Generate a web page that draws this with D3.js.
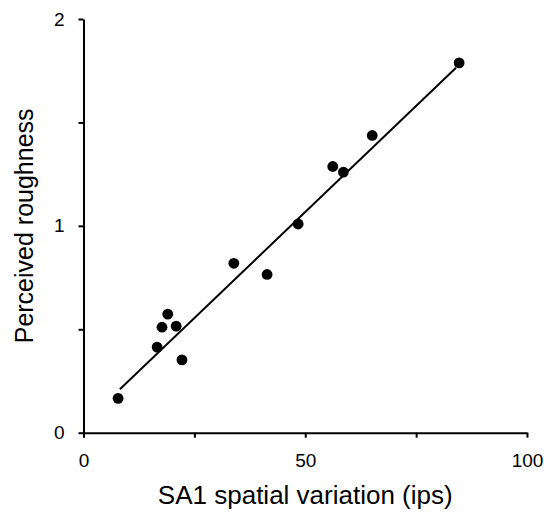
<!DOCTYPE html>
<html>
<head>
<meta charset="utf-8">
<script src="https://cdn.jsdelivr.net/npm/d3@7"></script>
<style>
  body { margin: 0; background: #fff; }
  svg { font-family: "Liberation Sans", Arial, Helvetica, sans-serif; }
</style>
</head>
<body>
<svg id="chart" width="544" height="513"></svg>
<script>
// data
let sa1 = [7.8, 16.6, 17.7, 19.0, 20.9, 22.2, 33.9, 41.4, 48.4, 56.2, 58.6, 65.1, 84.7];
let roughness = [0.166, 0.414, 0.51, 0.573, 0.515, 0.352, 0.819, 0.765, 1.009, 1.287, 1.26, 1.437, 1.788];
let fitX = [8.2, 84.0];
let fitY = [0.21, 1.764];
let xTicks = [0, 25, 50, 75, 100];
let yTicks = [0, 0.5, 1, 1.5, 2];

let svg = d3.select("#chart");

let x = d3.scaleLinear().domain([0, 100]).range([83.5, 527]);
let y = d3.scaleLinear().domain([0, 2]).range([432.7, 19]);

// axes
svg.append("g")
  .attr("transform", "translate(0," + y(0) + ")")
  .call(d3.axisBottom(x)
    .tickValues(xTicks)
    .tickFormat(d => d % 50 == 0 ? d : "")
    .tickSizeInner(5).tickSizeOuter(0).tickPadding(15.5));

svg.append("g")
  .attr("transform", "translate(" + x(0) + ",0)")
  .call(d3.axisLeft(y)
    .tickValues(yTicks)
    .tickFormat(d => d % 1 == 0 ? d : "")
    .tickSizeInner(5).tickSizeOuter(0).tickPadding(14));

svg.selectAll(".domain, .tick line")
  .attr("stroke", "#000")
  .attr("stroke-width", 2);
svg.selectAll(".tick text")
  .attr("fill", "#000")
  .style("font-size", "19px");

// titles
svg.append("text")
  .attr("x", (x(0) + x(100)) / 2)
  .attr("y", 504)
  .attr("text-anchor", "middle")
  .style("font-size", "26px")
  .text("SA1 spatial variation (ips)");

svg.append("text")
  .attr("transform", "translate(33," + (y(0) + y(2)) / 2 + ") rotate(-90)")
  .attr("text-anchor", "middle")
  .style("font-size", "25px")
  .text("Perceived roughness");

// regression line
let fit = fitX.map((d, i) => [d, fitY[i]]);
svg.append("path")
  .datum(fit)
  .attr("fill", "none")
  .attr("stroke", "#000")
  .attr("stroke-width", 2)
  .attr("d", d3.line().x(d => x(d[0])).y(d => y(d[1])));

// points
let pts = sa1.map((d, i) => ({sa1: d, r: roughness[i]}));
svg.selectAll(".dot")
  .data(pts)
  .enter()
  .append("circle")
  .attr("class", "dot")
  .attr("cx", d => x(d.sa1))
  .attr("cy", d => y(d.r))
  .attr("r", 5.4)
  .attr("fill", "#000");
</script>
</body>
</html>
